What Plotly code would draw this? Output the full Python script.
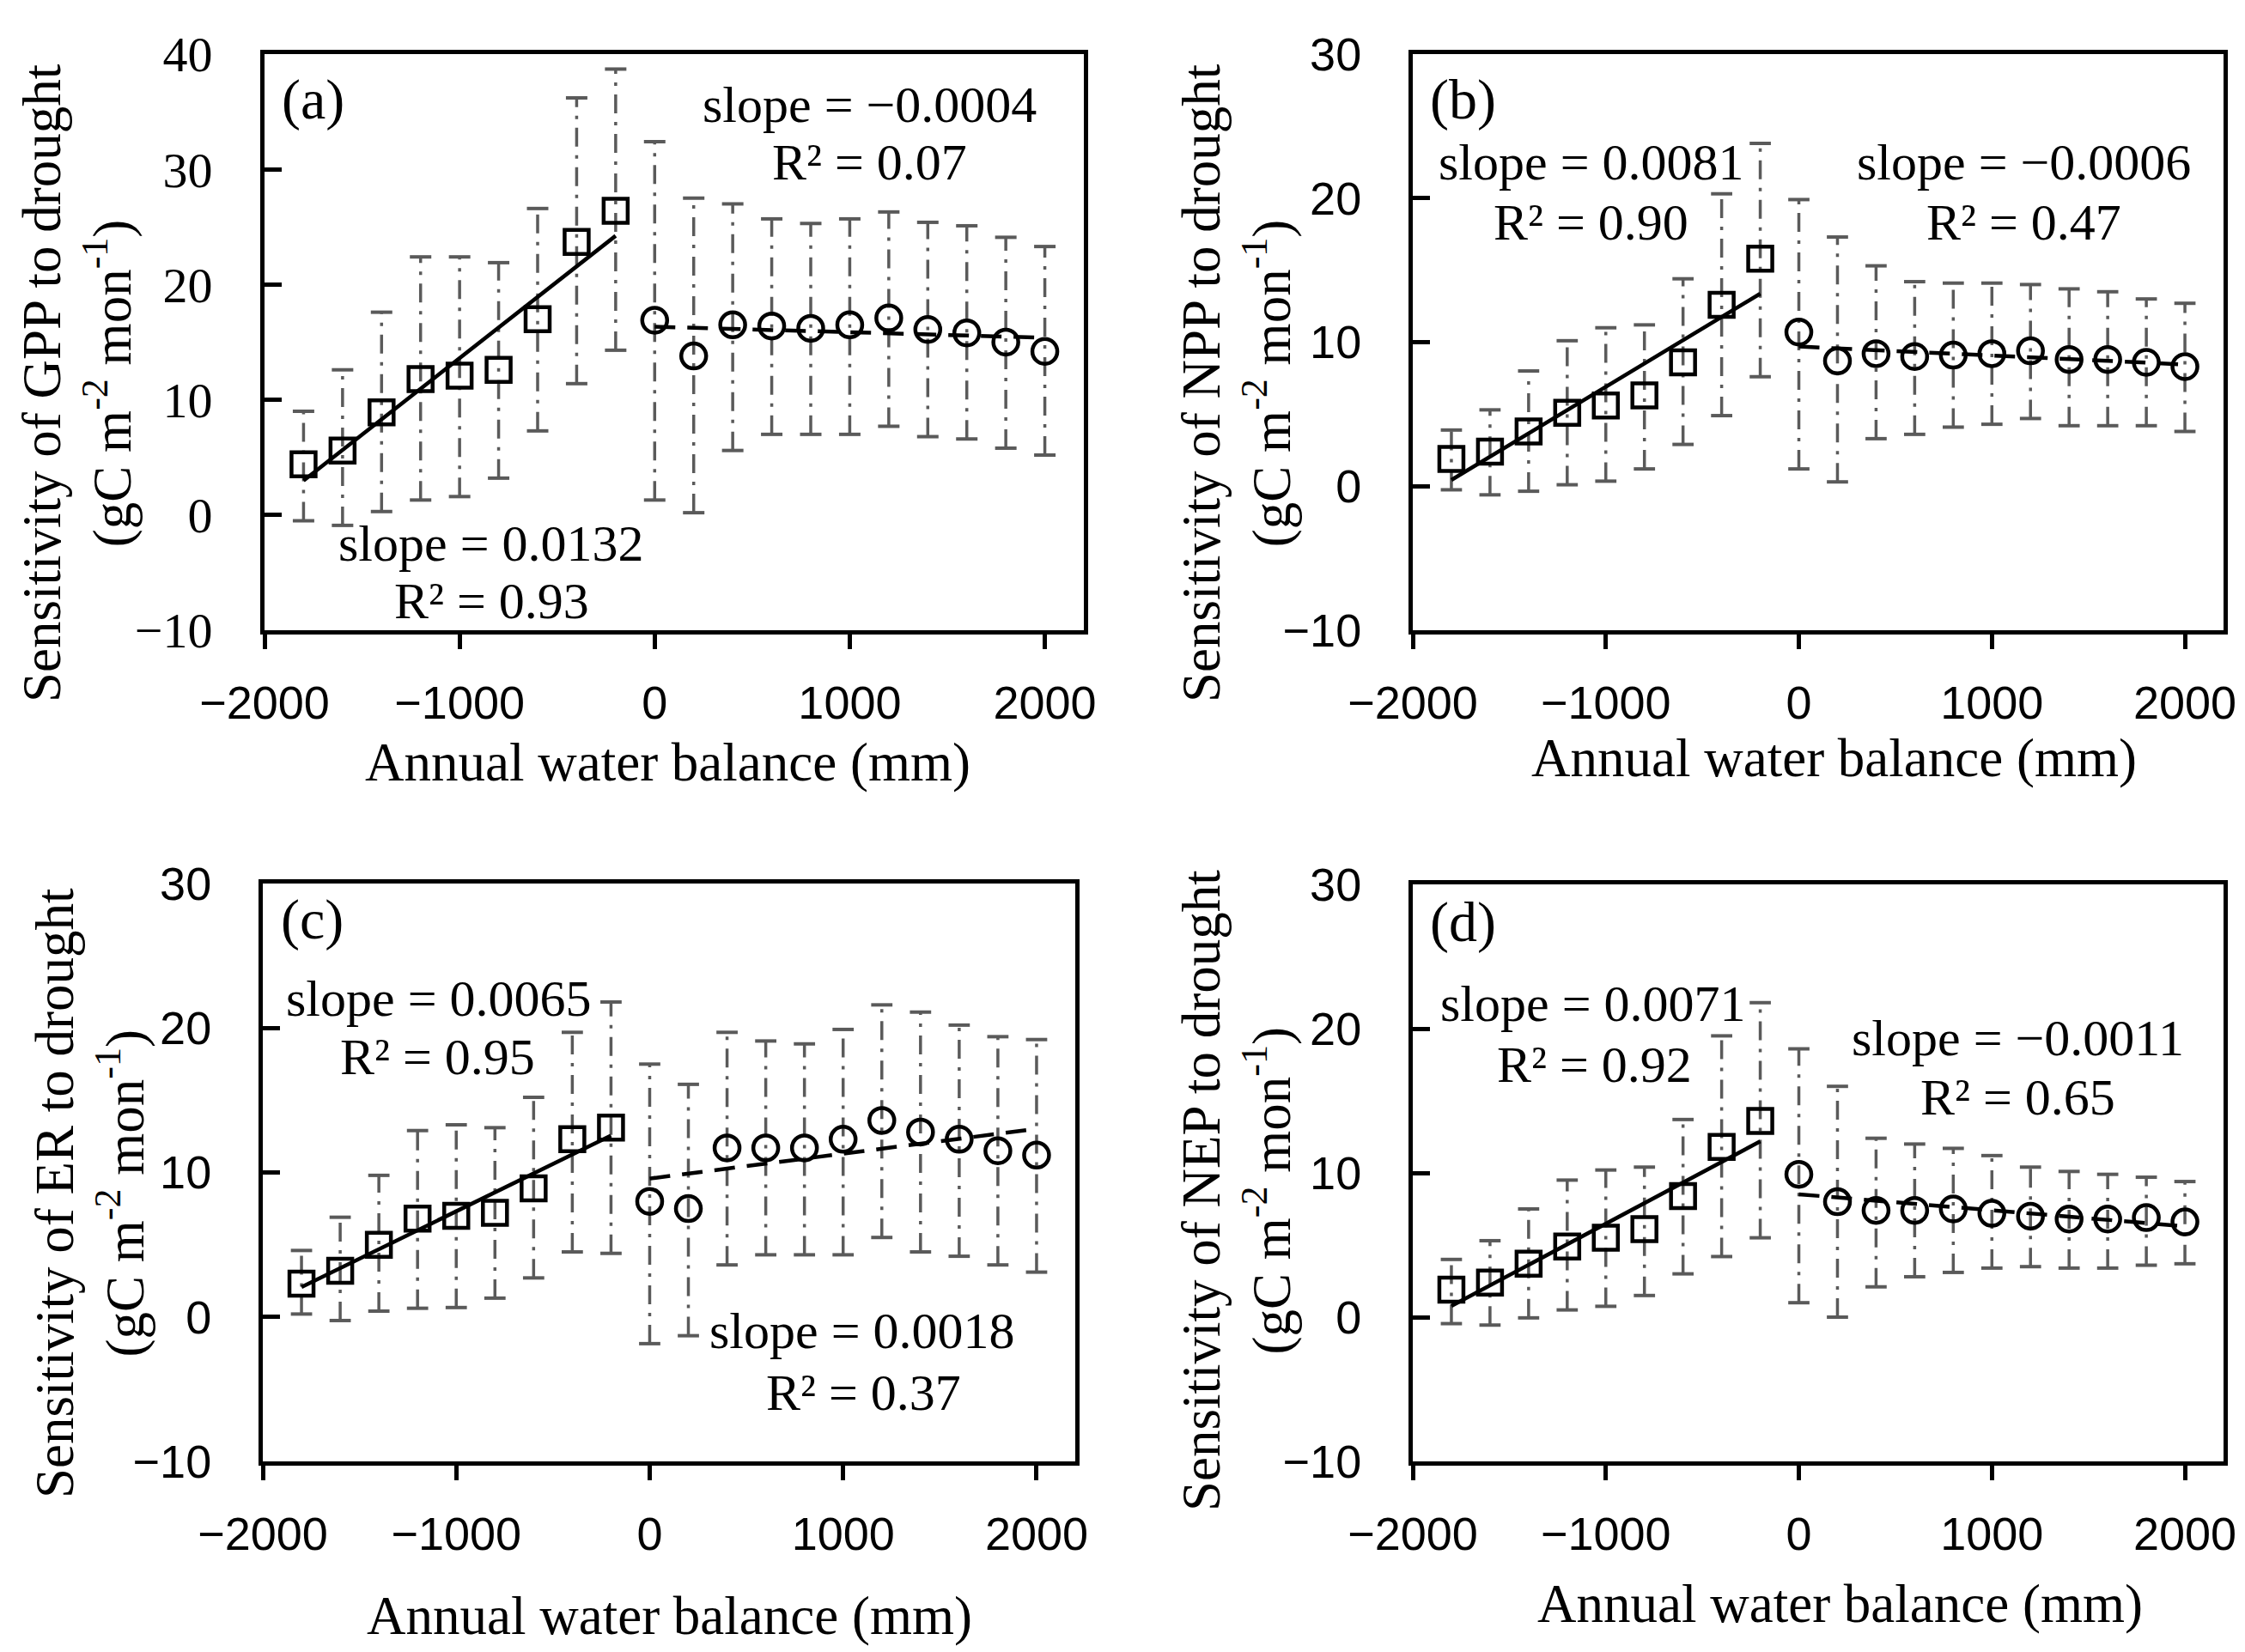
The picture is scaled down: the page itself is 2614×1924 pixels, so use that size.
import numpy as np
import plotly.graph_objects as go

W, H = 2614, 1924

# water balance bins (mm)
x_dry = [-1800, -1600, -1400, -1200, -1000, -800, -600, -400, -200]
x_wet = [0, 200, 400, 600, 800, 1000, 1200, 1400, 1600, 1800, 2000]

# (a) GPP
gpp_dry = [4.4, 5.6, 8.9, 11.8, 12.1, 12.6, 17.0, 23.7, 26.4]
gpp_dry_hi = [9.0, 12.6, 17.6, 22.4, 22.4, 21.9, 26.6, 36.2, 38.7]
gpp_dry_lo = [-0.5, -0.9, 0.3, 1.3, 1.6, 3.2, 7.3, 11.4, 14.3]
gpp_wet = [16.9, 13.8, 16.5, 16.4, 16.2, 16.5, 17.1, 16.1, 15.8, 15.0, 14.2]
gpp_wet_hi = [32.4, 27.5, 27.0, 25.7, 25.3, 25.7, 26.3, 25.4, 25.1, 24.1, 23.3]
gpp_wet_lo = [1.3, 0.2, 5.6, 7.0, 7.0, 7.0, 7.7, 6.8, 6.6, 5.8, 5.2]

# (b) NPP
npp_dry = [1.9, 2.4, 3.8, 5.1, 5.6, 6.3, 8.6, 12.6, 15.8]
npp_dry_hi = [3.9, 5.3, 8.0, 10.1, 11.0, 11.2, 14.4, 20.3, 23.8]
npp_dry_lo = [-0.25, -0.6, -0.35, 0.1, 0.35, 1.2, 2.9, 4.9, 7.6]
npp_wet = [10.7, 8.7, 9.2, 9.0, 9.1, 9.2, 9.4, 8.8, 8.8, 8.6, 8.3]
npp_wet_hi = [19.9, 17.3, 15.3, 14.2, 14.1, 14.1, 14.0, 13.7, 13.5, 13.0, 12.7]
npp_wet_lo = [1.2, 0.3, 3.3, 3.6, 4.1, 4.3, 4.7, 4.2, 4.2, 4.2, 3.8]

# (c) ER
er_dry = [2.3, 3.2, 5.0, 6.8, 7.0, 7.2, 8.9, 12.3, 13.1]
er_dry_hi = [4.6, 6.9, 9.8, 12.9, 13.3, 13.1, 15.2, 19.7, 21.8]
er_dry_lo = [0.2, -0.25, 0.4, 0.6, 0.65, 1.3, 2.7, 4.5, 4.4]
er_wet = [8.0, 7.5, 11.7, 11.7, 11.7, 12.3, 13.6, 12.8, 12.3, 11.5, 11.2]
er_wet_hi = [17.5, 16.1, 19.7, 19.1, 18.9, 19.9, 21.6, 21.1, 20.2, 19.4, 19.2]
er_wet_lo = [-1.85, -1.3, 3.6, 4.3, 4.3, 4.3, 5.5, 4.5, 4.2, 3.6, 3.1]

# (d) NEP
nep_dry = [1.9, 2.4, 3.7, 4.9, 5.5, 6.1, 8.4, 11.8, 13.6]
nep_dry_hi = [4.0, 5.3, 7.5, 9.5, 10.2, 10.4, 13.7, 19.5, 21.8]
nep_dry_lo = [-0.45, -0.55, -0.05, 0.5, 0.75, 1.5, 3.0, 4.2, 5.5]
nep_wet = [9.9, 8.0, 7.4, 7.4, 7.5, 7.2, 7.0, 6.8, 6.8, 6.9, 6.6]
nep_wet_hi = [18.6, 16.0, 12.4, 12.0, 11.7, 11.2, 10.4, 10.1, 9.9, 9.7, 9.4]
nep_wet_lo = [1.0, 0.0, 2.1, 2.8, 3.1, 3.4, 3.5, 3.4, 3.4, 3.6, 3.7]

panel_labels = ["(a)", "(b)", "(c)", "(d)"]
flux_names = ["GPP", "NPP", "ER", "NEP"]
fit_dry_text = [("slope = 0.0132", "R² = 0.93"), ("slope = 0.0081", "R² = 0.90"),
                ("slope = 0.0065", "R² = 0.95"), ("slope = 0.0071", "R² = 0.92")]
fit_wet_text = [("slope = −0.0004", "R² = 0.07"), ("slope = −0.0006", "R² = 0.47"),
                ("slope = 0.0018", "R² = 0.37"), ("slope = −0.0011", "R² = 0.65")]
y_ranges = [[-10, 40], [-10, 30], [-10, 30], [-10, 30]]
x_ticks = [-2000, -1000, 0, 1000, 2000]

data = [
    (gpp_dry, gpp_dry_hi, gpp_dry_lo, gpp_wet, gpp_wet_hi, gpp_wet_lo),
    (npp_dry, npp_dry_hi, npp_dry_lo, npp_wet, npp_wet_hi, npp_wet_lo),
    (er_dry, er_dry_hi, er_dry_lo, er_wet, er_wet_hi, er_wet_lo),
    (nep_dry, nep_dry_hi, nep_dry_lo, nep_wet, nep_wet_hi, nep_wet_lo),
]

SERIF = "Liberation Serif, Times New Roman, serif"
SANS = "Liberation Sans, Arial, sans-serif"
GREY = "#5a5a5a"
CAP = 55  # half width of error bar caps, in mm

# plot frames in pixels: left, right, top, bottom
frames = [(300, 1254, 55, 726), (1637, 2581, 55, 726),
          (298, 1244, 1021, 1694), (1637, 2581, 1022, 1694)]


def px(x, y):
    return x / W, 1 - y / H


def errbar_traces(xs, hi, lo, xa, ya):
    sx, sy, cx, cy = [], [], [], []
    for x, h, l in zip(xs, hi, lo):
        sx += [x, x, None]
        sy += [l, h, None]
        cx += [x - CAP, x + CAP, None, x - CAP, x + CAP, None]
        cy += [h, h, None, l, l, None]
    stem = go.Scatter(x=sx, y=sy, mode="lines", xaxis=xa, yaxis=ya,
                      line=dict(color=GREY, width=3.5, dash="22px,10px,4px,10px"),
                      hoverinfo="skip")
    caps = go.Scatter(x=cx, y=cy, mode="lines", xaxis=xa, yaxis=ya,
                      line=dict(color=GREY, width=4), hoverinfo="skip")
    return [stem, caps]


fig = go.Figure()
annotations = []
layout = {}

for i, (dry, dhi, dlo, wet, whi, wlo) in enumerate(data):
    n = "" if i == 0 else str(i + 1)
    xa, ya = "x" + n, "y" + n
    l, r, t, b = frames[i]

    for tr in errbar_traces(x_dry, dhi, dlo, xa, ya) + errbar_traces(x_wet, whi, wlo, xa, ya):
        fig.add_trace(tr)

    # linear fits
    k1, c1 = np.polyfit(x_dry, dry, 1)
    fx1 = [x_dry[0], x_dry[-1]]
    fig.add_trace(go.Scatter(x=fx1, y=[k1 * v + c1 for v in fx1], mode="lines",
                             xaxis=xa, yaxis=ya, line=dict(color="black", width=4.5)))
    k2, c2 = np.polyfit(x_wet, wet, 1)
    fx2 = [x_wet[0], x_wet[-1]]
    fig.add_trace(go.Scatter(x=fx2, y=[k2 * v + c2 for v in fx2], mode="lines",
                             xaxis=xa, yaxis=ya,
                             line=dict(color="black", width=4.5, dash="24px,14px")))

    fig.add_trace(go.Scatter(x=x_dry, y=dry, mode="markers", xaxis=xa, yaxis=ya,
                             marker=dict(symbol="square-open", size=28, color="black",
                                         line=dict(width=4.5, color="black"))))
    fig.add_trace(go.Scatter(x=x_wet, y=wet, mode="markers", xaxis=xa, yaxis=ya,
                             marker=dict(symbol="circle-open", size=29, color="black",
                                         line=dict(width=4.5, color="black"))))

    x0, y1 = px(l, t)
    x1, y0 = px(r, b)
    layout["xaxis" + n] = dict(
        domain=[x0, x1], anchor=ya, range=[-2000, 2200], tickvals=x_ticks,
        ticks="outside", ticklen=17, tickwidth=5, tickcolor="black",
        showline=True, linewidth=5, linecolor="black", mirror=True,
        showgrid=False, zeroline=False, ticklabelstandoff=16, automargin=False,
        tickfont=dict(family=SANS, size=54, color="black"))
    layout["yaxis" + n] = dict(
        domain=[y0, y1], anchor=xa, range=y_ranges[i], dtick=10,
        ticks="inside", ticklen=20, tickwidth=5, tickcolor="black",
        showline=True, linewidth=5, linecolor="black", mirror=True,
        showgrid=False, zeroline=False, ticklabelstandoff=44, automargin=False,
        tickfont=dict(family=SERIF if i == 0 else SANS, size=58 if i == 0 else 54,
                      color="black"))

# text positions in pixels
label_pos = [(318, 108), (1655, 108), (317, 1063), (1655, 1066)]
dry_pos = [((564, 625), (564, 692)), ((1845, 181), (1844, 251)),
           ((503, 1155), (501, 1223)), ((1847, 1161), (1848, 1232))]
wet_pos = [((1004, 114), (1004, 181)), ((2348, 181), (2348, 251)),
           ((996, 1542), (997, 1614)), ((2341, 1201), (2341, 1270))]
ytitle_pos = [(82, 438), (1432, 438), (97, 1382), (1432, 1378)]
xtitle_pos = [(769, 880), (2127, 875), (771, 1874), (2134, 1860)]


def ann(text, pos, size, family=SERIF, xanchor="center", angle=0):
    x, y = px(*pos)
    return dict(text=text, x=x, y=y, xref="paper", yref="paper", showarrow=False,
                xanchor=xanchor, yanchor="middle", textangle=angle,
                font=dict(family=family, size=size, color="black"))


for i in range(4):
    annotations.append(ann(panel_labels[i], label_pos[i], 66, xanchor="left"))
    for txt, pos in zip(fit_dry_text[i], dry_pos[i]):
        annotations.append(ann(txt, pos, 60))
    for txt, pos in zip(fit_wet_text[i], wet_pos[i]):
        annotations.append(ann(txt, pos, 60))
    annotations.append(ann(
        "Sensitivity of " + flux_names[i] + " to drought<br>(gC m<sup>-2</sup> mon<sup>-1</sup>)",
        ytitle_pos[i], 63, angle=-90))
    annotations.append(ann("Annual water balance (mm)", xtitle_pos[i], 63))

fig.update_layout(
    width=W, height=H, margin=dict(l=0, r=0, t=0, b=0),
    paper_bgcolor="white", plot_bgcolor="white", showlegend=False,
    annotations=annotations, **layout)

fig.write_html("out.html")
